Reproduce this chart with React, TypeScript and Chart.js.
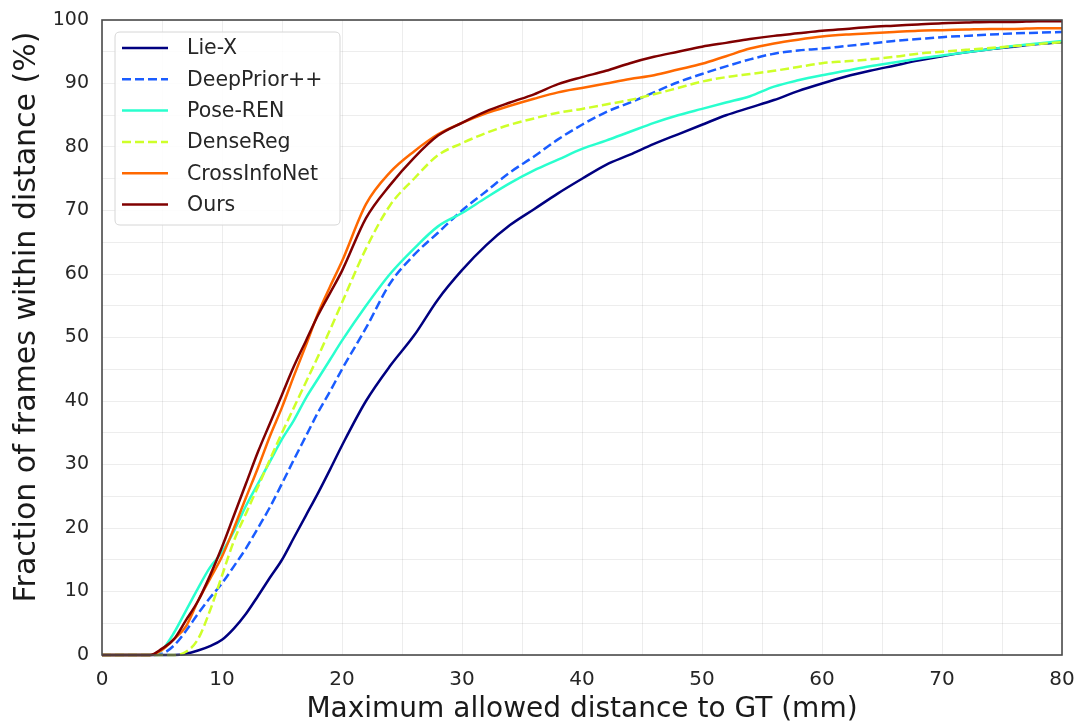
import React, { useEffect, useRef } from "react";
import { Chart, registerables } from "chart.js";

Chart.register(...registerables);

const distances = [0, 2, 4, 5, 6, 7, 8, 9, 10, 11, 12, 13, 14, 15, 16, 17, 18, 19, 20, 22, 24, 26, 28, 30, 32, 34, 36, 38, 40, 42, 44, 46, 48, 50, 52, 54, 56, 58, 60, 62, 64, 66, 68, 70, 72, 74, 76, 78, 80];

const lieX = [0, 0, 0, 0, 0, 0.2, 0.7, 1.4, 2.4, 4.2, 6.5, 9.3, 12.2, 15, 18.5, 22, 25.5, 29.2, 33, 40, 45.5, 50.3, 56, 60.6, 64.5, 67.7, 70.2, 72.7, 75, 77.2, 78.8, 80.5, 82, 83.5, 85, 86.2, 87.4, 88.8, 90, 91.1, 92, 92.8, 93.6, 94.3, 94.9, 95.4, 95.8, 96.2, 96.5];
const deepPrior = [0, 0, 0, 0.2, 1.5, 3.8, 6.5, 9, 11.3, 14, 16.8, 20, 23.3, 27, 30.8, 34.5, 38.2, 41.5, 45, 51.5, 58.5, 63, 66.5, 70, 73, 76, 78.5, 81.2, 83.5, 85.5, 87, 88.6, 90.2, 91.5, 92.7, 93.8, 94.7, 95.2, 95.5, 95.9, 96.3, 96.7, 97, 97.3, 97.5, 97.7, 97.9, 98, 98.1];
const poseRen = [0, 0, 0, 0.8, 3.5, 7, 10.5, 13.8, 16.2, 19.5, 23.5, 27, 30.5, 34, 37, 40.5, 43.5, 46.5, 49.5, 55, 60, 64, 67.5, 69.6, 72, 74.3, 76.3, 78, 79.7, 81, 82.4, 83.8, 85, 86, 87, 88, 89.5, 90.5, 91.3, 92, 92.7, 93.3, 93.9, 94.4, 94.9, 95.4, 95.9, 96.3, 96.7];
const denseReg = [0, 0, 0, 0, 0, 0.5, 2.5, 7, 12.5, 18, 22.3, 26.5, 30.8, 35, 39, 43, 47, 51.2, 55.5, 64, 70.8, 75, 78.7, 80.6, 82.2, 83.5, 84.5, 85.4, 86, 86.7, 87.4, 88.3, 89.3, 90.3, 91, 91.5, 92, 92.6, 93.2, 93.5, 93.8, 94.2, 94.7, 95, 95.3, 95.6, 95.9, 96.2, 96.5];
const crossInfoNet = [0, 0, 0, 0.8, 2.5, 4.5, 8.5, 12, 15.5, 20, 24.8, 29.5, 34.5, 39, 44, 48.8, 53.8, 58, 62, 71, 76, 79.3, 82, 83.8, 85.3, 86.5, 87.6, 88.6, 89.3, 90, 90.7, 91.3, 92.2, 93.1, 94.3, 95.5, 96.3, 96.9, 97.4, 97.7, 97.9, 98.1, 98.3, 98.4, 98.5, 98.6, 98.6, 98.7, 98.7];
const ours = [0, 0, 0, 1, 2.5, 5.5, 8.5, 12.5, 17, 22, 27, 32, 36.5, 41, 45.5, 49.5, 53.5, 57, 60.5, 68.8, 74, 78.3, 81.8, 83.8, 85.6, 87, 88.3, 89.9, 91, 92, 93.2, 94.2, 95, 95.8, 96.4, 97, 97.5, 97.9, 98.3, 98.6, 98.9, 99.1, 99.3, 99.5, 99.6, 99.7, 99.7, 99.8, 99.8];

const seriesNames = ["Lie-X", "DeepPrior++", "Pose-REN", "DenseReg", "CrossInfoNet", "Ours"];
const seriesColors = ["#000080", "#1a5cff", "#29ffce", "#ceff29", "#ff6800", "#800000"];
const seriesDashed = [false, true, false, true, false, false];
const seriesValues = [lieX, deepPrior, poseRen, denseReg, crossInfoNet, ours];

const xTitle = "Maximum allowed distance to GT (mm)";
const yTitle = "Fraction of frames within distance (%)";

const FONT = "'DejaVu Sans', sans-serif";

const framePlugin = {
  id: "frameAndLegend",
  afterDatasetsDraw(chart: any) {
    const { ctx, chartArea } = chart;
    ctx.save();
    // frame
    ctx.strokeStyle = "#4a4a4a";
    ctx.lineWidth = 1.6;
    ctx.strokeRect(chartArea.left, chartArea.top, chartArea.right - chartArea.left, chartArea.bottom - chartArea.top);

    // axis titles
    ctx.fillStyle = "#1a1a1a";
    ctx.font = `28px ${FONT}`;
    ctx.textAlign = "center";
    ctx.textBaseline = "alphabetic";
    ctx.fillText(xTitle, (chartArea.left + chartArea.right) / 2, 717);
    ctx.save();
    ctx.translate(35, 317);
    ctx.rotate(-Math.PI / 2);
    ctx.font = `30px ${FONT}`;
    ctx.fillText(yTitle, 0, 0);
    ctx.restore();

    // legend
    const bx = 115, by = 32, bw = 225, bh = 193, r = 5;
    ctx.beginPath();
    ctx.moveTo(bx + r, by);
    ctx.lineTo(bx + bw - r, by);
    ctx.quadraticCurveTo(bx + bw, by, bx + bw, by + r);
    ctx.lineTo(bx + bw, by + bh - r);
    ctx.quadraticCurveTo(bx + bw, by + bh, bx + bw - r, by + bh);
    ctx.lineTo(bx + r, by + bh);
    ctx.quadraticCurveTo(bx, by + bh, bx, by + bh - r);
    ctx.lineTo(bx, by + r);
    ctx.quadraticCurveTo(bx, by, bx + r, by);
    ctx.closePath();
    ctx.fillStyle = "rgba(255,255,255,0.85)";
    ctx.fill();
    ctx.strokeStyle = "#d6d6d6";
    ctx.lineWidth = 1;
    ctx.stroke();

    ctx.font = `20.5px ${FONT}`;
    ctx.textBaseline = "middle";
    ctx.textAlign = "left";
    chart.data.datasets.forEach((ds: any, i: number) => {
      const yy = 48 + i * 31.3;
      ctx.beginPath();
      ctx.strokeStyle = ds.borderColor;
      ctx.lineWidth = 2.5;
      ctx.setLineDash(ds.borderDash || []);
      ctx.moveTo(122, yy);
      ctx.lineTo(168, yy);
      ctx.stroke();
      ctx.setLineDash([]);
      ctx.fillStyle = "#262626";
      ctx.fillText(ds.label, 187, yy + 1);
    });
    ctx.restore();
  },
};

export default function App() {
  const ref = useRef<HTMLCanvasElement>(null);
  useEffect(() => {
    document.body.style.margin = "0";
    const datasets = seriesNames.map((name, i) => ({
      label: name,
      data: distances.map((d, j) => ({ x: d, y: seriesValues[i][j] })),
      borderColor: seriesColors[i],
      backgroundColor: seriesColors[i],
      borderWidth: 2.5,
      borderDash: seriesDashed[i] ? [9, 4] : [],
      pointRadius: 0,
      cubicInterpolationMode: "monotone" as const,
      fill: false,
      clip: 6,
      order: seriesNames.length - 1 - i,
    }));
    const chart = new Chart(ref.current!, {
      type: "line",
      data: { datasets },
      options: {
        animation: false,
        responsive: false,
        devicePixelRatio: 1,
        layout: { padding: { top: 20, right: 18, left: 0, bottom: 0 } },
        plugins: { legend: { display: false }, tooltip: { enabled: false } },
        scales: {
          x: {
            type: "linear",
            min: 0,
            max: 80,
            afterFit: (s: any) => { s.height = 68; s.paddingLeft = 0; s.paddingRight = 0; },
            border: { display: false },
            grid: { color: "rgba(0,0,0,0.07)", lineWidth: 1, drawTicks: false },
            ticks: {
              stepSize: 5,
              autoSkip: false,
              maxRotation: 0,
              padding: 13,
              color: "#262626",
              font: { family: FONT, size: 20 },
              callback: (v: any) => (Number(v) % 10 === 0 ? String(v) : ""),
            },
          },
          y: {
            min: 0,
            max: 100,
            afterFit: (s: any) => { s.width = 102; s.paddingTop = 0; s.paddingBottom = 0; },
            border: { display: false },
            grid: { color: "rgba(0,0,0,0.07)", lineWidth: 1, drawTicks: false },
            ticks: {
              stepSize: 5,
              autoSkip: false,
              padding: 13,
              color: "#262626",
              font: { family: FONT, size: 19 },
              callback: (v: any) => (Number(v) % 10 === 0 ? String(v) : ""),
            },
          },
        },
      },
      plugins: [framePlugin],
    });
    return () => chart.destroy();
  }, []);
  return (
    <div style={{ position: "absolute", left: 0, top: 0, width: 1080, height: 723 }}>
      <canvas ref={ref} width={1080} height={723} />
    </div>
  );
}
